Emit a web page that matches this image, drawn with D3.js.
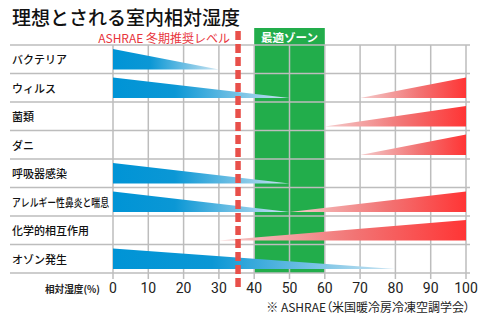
<!DOCTYPE html>
<html><head><meta charset="utf-8">
<script src="https://cdn.jsdelivr.net/npm/d3@7"></script>
<style>
html,body{margin:0;padding:0;background:#fff;}
svg{display:block;}
text{font-family:"Noto Sans CJK JP","Noto Sans",sans-serif;}
.palt{font-feature-settings:"palt" 1;}
</style></head>
<body>
<script>
const title = "理想とされる室内相対湿度";
const categories = ["バクテリア","ウィルス","菌類","ダニ","呼吸器感染","アレルギー性鼻炎と喘息","化学的相互作用","オゾン発生"];
// blue wedge: risk decreasing from 0% to this value
const lowHumidityRiskEnd = [30, 50, null, null, 50, 50, null, 80];
// red wedge: risk increasing from this value to 100%
const highHumidityRiskStart = [null, 70, 60, 70, null, 50, 30, null];
const tickValues = [0,10,20,30,40,50,60,70,80,90,100];
const optimalZone = [40, 60];
const ashraeWinter = 35;
const ashraeLabel = "ASHRAE 冬期推奨レベル";
const zoneLabel = "最適ゾーン";
const axisLabel = "相対湿度(%)";
const footnote = "※ ASHRAE（米国暖冷房冷凍空調学会）";

const W = 480, H = 322;
const svg = d3.select("body").append("svg").attr("width", W).attr("height", H);
const x = d3.scaleLinear().domain([0,100]).range([113,466]);
const y = d3.scaleBand().domain(categories).range([45,273]).padding(0);

const defs = svg.append("defs");
const gb = defs.append("linearGradient").attr("id","gblue");
gb.append("stop").attr("offset","0%").attr("stop-color","#0094d6");
gb.append("stop").attr("offset","35%").attr("stop-color","#0b97d5");
gb.append("stop").attr("offset","100%").attr("stop-color","#cde5f2");
const gr = defs.append("linearGradient").attr("id","gred");
gr.append("stop").attr("offset","0%").attr("stop-color","#f4cccc");
gr.append("stop").attr("offset","55%").attr("stop-color","#f27474");
gr.append("stop").attr("offset","100%").attr("stop-color","#ff3535");

// title
svg.append("text").attr("x",12).attr("y",16).attr("dominant-baseline","central")
  .attr("font-size",19).attr("font-weight",500).attr("fill","#111").text(title);

// green optimal zone
const green = "#22ad4b";
svg.append("rect").attr("x",x(optimalZone[0])).attr("y",28)
  .attr("width",x(optimalZone[1])-x(optimalZone[0])).attr("height",273-28).attr("fill",green);
svg.append("text").attr("x",(x(optimalZone[0])+x(optimalZone[1]))/2).attr("y",37)
  .attr("text-anchor","middle").attr("dominant-baseline","central")
  .attr("font-size",11.5).attr("font-weight",700).attr("fill","#fff").text(zoneLabel);

// grid
const grid = svg.append("g").attr("stroke","#bdbdbd").attr("stroke-width",1.5);
grid.selectAll("line.v").data(tickValues).join("line")
  .attr("x1",d=>x(d)).attr("x2",d=>x(d)).attr("y1",45).attr("y2",273);
const rowEdges = categories.map(c=>y(c)).concat([y.range()[1]]);
grid.selectAll("line.h").data(rowEdges).join("line")
  .attr("x1",10).attr("x2",470).attr("y1",d=>d).attr("y2",d=>d);
// tick marks
grid.selectAll("line.t").data(tickValues).join("line")
  .attr("x1",d=>x(d)).attr("x2",d=>x(d)).attr("y1",273).attr("y2",279);

// category labels
svg.append("g").selectAll("text").data(categories).join("text")
  .attr("x",12).attr("y",d=>y(d)+y.bandwidth()/2)
  .attr("dominant-baseline","central").attr("font-size",11).attr("font-weight",500).attr("fill","#111")
  .each(function(d){ if(d.length>8) d3.select(this).attr("textLength",97).attr("lengthAdjust","spacingAndGlyphs"); })
  .text(d=>d);

// wedges
const inset = 4;
const line = d3.line();
const wedges = svg.append("g");
categories.forEach((c,i)=>{
  const top = y(c)+inset, bot = y(c)+y.bandwidth()-inset;
  const e = lowHumidityRiskEnd[i];
  if(e!=null){
    wedges.append("path").attr("fill","url(#gblue)")
      .attr("d", line([[x(0),top],[x(e),bot],[x(0),bot]])+"Z");
  }
  const s = highHumidityRiskStart[i];
  if(s!=null){
    wedges.append("path").attr("fill","url(#gred)")
      .attr("d", line([[x(s),bot],[x(100),top],[x(100),bot]])+"Z");
  }
});

// ASHRAE dashed line
svg.append("line").attr("x1",x(ashraeWinter)+1.5).attr("x2",x(ashraeWinter)+1.5)
  .attr("y1",31).attr("y2",290).attr("stroke","#e8504a").attr("stroke-width",5.5)
  .attr("stroke-dasharray","9,4");
svg.append("text").attr("x",230).attr("y",37).attr("text-anchor","end")
  .attr("dominant-baseline","central").attr("font-size",12).attr("fill","#e8343c").text(ashraeLabel);

// tick labels
svg.append("g").selectAll("text").data(tickValues).join("text")
  .attr("x",d=>x(d)).attr("y",288).attr("text-anchor","middle").attr("dominant-baseline","central")
  .style("font-family","Roboto, sans-serif").attr("font-size",14).attr("fill","#222").text(d=>d);
svg.append("text").attr("x",100).attr("y",288).attr("text-anchor","end").attr("dominant-baseline","central")
  .attr("font-size",10).attr("font-weight",700).attr("fill","#222")
  .attr("textLength",55).attr("lengthAdjust","spacingAndGlyphs").text(axisLabel);

// footnote
svg.append("text").attr("class","palt").attr("x",470).attr("y",306).attr("text-anchor","end").attr("dominant-baseline","central")
  .attr("font-size",12).attr("fill","#222").text(footnote);
</script>
</body></html>
